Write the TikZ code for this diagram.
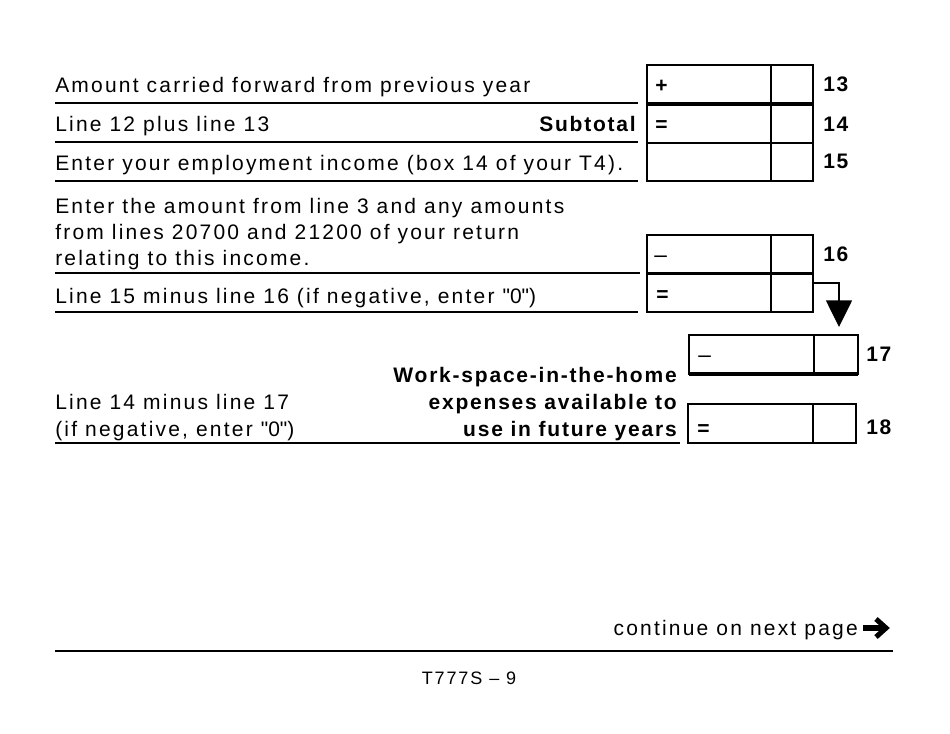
\documentclass[tikz,border=0pt]{standalone}
\usepackage{fontspec}
\setmainfont{Liberation Sans}[LetterSpace=10.5,BoldFeatures={LetterSpace=8.5}]
\font\qfont="Liberation Sans:letterspace=10.5" at 15.75pt
\newcommand\dq{{\qfont"}}
\usetikzlibrary{arrows.meta}
\begin{document}
\begin{tikzpicture}[x=0.75pt,y=-0.75pt,
  txt/.style={inner sep=0pt,anchor=base west,font=\fontsize{15.75pt}{19.5pt}\selectfont},
  rtxt/.style={inner sep=0pt,anchor=base east,font=\fontsize{15.75pt}{19.5pt}\selectfont\bfseries},
  num/.style={inner sep=0pt,anchor=base west,font=\fontsize{15.75pt}{19.5pt}\selectfont\bfseries},
  sym/.style={inner sep=0pt,anchor=base west,font=\fontsize{15.75pt}{19.5pt}\selectfont\bfseries},
  dashsym/.style={inner sep=0pt,anchor=base west,font=\fontsize{17pt}{19.5pt}\selectfont},
  rule/.style={line width=1.5pt},
  box/.style={line width=1.1pt},
  thick rule/.style={line width=2.4pt}]
\useasboundingbox (0,0) rectangle (950,733);

% --- underlines of the text rows
\draw[rule] (55,103) -- (638,103);
\draw[rule] (55,142) -- (638,142);
\draw[rule] (55,181) -- (638,181);
\draw[rule] (55,273) -- (640,273);
\draw[rule] (55,312) -- (638,312);
\draw[rule] (55,443) -- (680,443);

% --- texts
\node[txt] (t13) at (55,92) {Amount carried forward from previous year};
\node[txt] (t14) at (55,131) {Line 12 plus line 13};
\node[rtxt] (sub) at (636,131) {Subtotal};
\node[txt] (t15) at (55,170) {Enter your employment income (box 14 of your T4).};
\node[txt] (t16a) at (55,213) {Enter the amount from line 3 and any amounts};
\node[txt] (t16b) at (55,239) {from lines 20700 and 21200 of your return};
\node[txt] (t16c) at (55,265) {relating to this income.};
\node[txt] (t16d) at (55,303) {Line 15 minus line 16 (if negative, enter \dq0\dq)};
\node[txt] (t18a) at (55,409) {Line 14 minus line 17};
\node[txt] (t18b) at (55,436) {(if negative, enter \dq0\dq)};
\node[rtxt] (w1) at (677,382) {Work-space-in-the-home};
\node[rtxt] (w2) at (677,409) {expenses available to};
\node[rtxt] (w3) at (677,436) {use in future years};

% --- boxes 13-15
\draw[box] (647,65) rectangle (813,181);
\draw[box] (771,65) -- (771,181);
\draw[box] (647,143) -- (813,143);
\draw[thick rule] (647,104) -- (813,104);
\node[sym] (p13) at (655,92) {+};
\node[sym] (e14) at (655,131) {=};

% --- boxes 16 and line-15-minus-16
\draw[box] (647,235) rectangle (813,312);
\draw[box] (771,235) -- (771,312);
\draw[thick rule] (647,273.5) -- (813,273.5);
\node[dashsym] (m16) at (654,262) {–};
\node[sym] (e16) at (656,301) {=};
\coordinate (from16) at (813,283);
\coordinate (bend) at (839,283);
\coordinate (tip) at (839,327);

% --- box 17
\draw[box] (689,335) rectangle (858,374);
\draw[box] (814,335) -- (814,374);
\draw[thick rule] (689,374) -- (858,374);
\node[dashsym] (m17) at (698,362) {–};

% --- box 18
\draw[box] (688,404) rectangle (856,443);
\draw[box] (813,404) -- (813,443);
\node[sym] (e18) at (697,435) {=};

% --- arrow from line 16 result to line 17
\draw[box,-{Triangle[width=19.5pt,length=20pt]}] (from16) -- (bend) -- (tip);

% --- line numbers
\node[num] (n13) at (823,91) {13};
\node[num] (n14) at (823,131) {14};
\node[num] (n15) at (823,168) {15};
\node[num] (n16) at (823,261) {16};
\node[num] (n17) at (866,361) {17};
\node[num] (n18) at (866,434) {18};

% --- footer
\node[inner sep=0pt,anchor=base east,font=\fontsize{15.75pt}{19.5pt}\selectfont] (cont) at (858,635) {continue on next page};
\draw[line width=3.8pt] (863,628) -- (883,628);
\draw[line width=3.8pt,line join=miter,miter limit=10] (876,619) -- (886,628) -- (876,637);
\draw[rule] (55,651) -- (893,651);
\node[inner sep=0pt,anchor=base,font=\fontsize{13.5pt}{16pt}\selectfont] (page) at (469,684) {T777S – 9};
\end{tikzpicture}
\end{document}
